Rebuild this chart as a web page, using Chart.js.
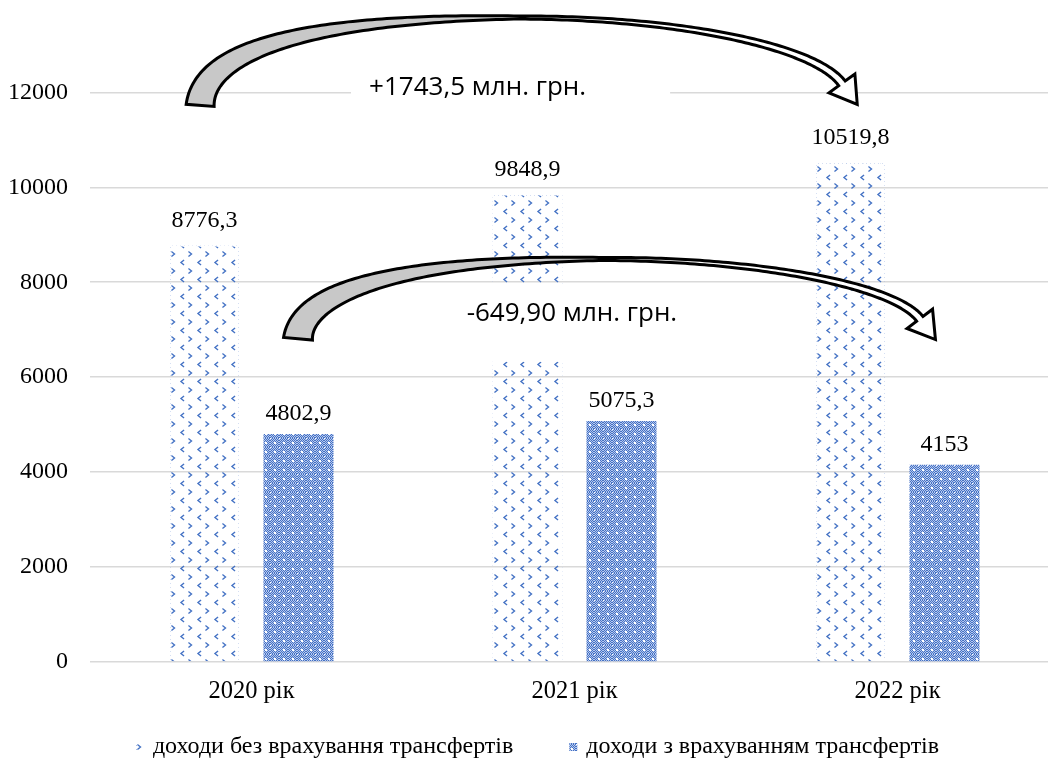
<!DOCTYPE html>
<html>
<head>
<meta charset="utf-8">
<script src="https://cdn.jsdelivr.net/npm/chart.js@4/dist/chart.umd.min.js"></script>
<style>
  html, body { margin: 0; padding: 0; background: #ffffff; overflow: hidden; width: 1048px; height: 758px; }
  #wrap { position: absolute; left: 0; top: -39px; width: 1060px; height: 797px; }
</style>
</head>
<body>
<div id="wrap"><canvas id="chart" width="1060" height="797" style="width:1060px;height:797px"></canvas></div>
<script>
// Revenue of the budget, mln UAH
const categories = ['2020 рік', '2021 рік', '2022 рік'];
const seriesNames = ['доходи без врахування трансфертів', 'доходи з врахуванням трансфертів'];
const incomeWithoutTransfers = [8776.3, 9848.9, 10519.8];
const incomeWithTransfers = [4802.9, 5075.3, 4153];
const yTicks = [0, 2000, 4000, 6000, 8000, 10000, 12000];
const changeLabels = ['+1743,5 млн. грн.', '-649,90 млн. грн.'];

const BLUE = '#4472C4';
const SERIF = '"Liberation Serif", "Times New Roman", serif';
const SANS = '"Open Sans", "Noto Sans", sans-serif';

const canvas = document.getElementById('chart');
const ctx = canvas.getContext('2d');

// sparse chevron fill for the first series
function sparsePattern() {
  const t = document.createElement('canvas');
  t.width = 17; t.height = 17;
  const g = t.getContext('2d');
  g.strokeStyle = BLUE; g.lineWidth = 1.4; g.lineCap = 'square';
  g.beginPath(); g.moveTo(2, 2); g.lineTo(4.5, 4); g.lineTo(2, 6); g.stroke();
  g.beginPath(); g.moveTo(13.5, 10.5); g.lineTo(11, 12.5); g.lineTo(13.5, 14.5); g.stroke();
  return ctx.createPattern(t, 'repeat');
}

// faint dotted outline for the sparse bars
function dotPattern() {
  const t = document.createElement('canvas');
  t.width = 4; t.height = 4;
  const g = t.getContext('2d');
  g.fillStyle = '#a9bde6';
  g.fillRect(0, 0, 1, 1);
  g.fillRect(2, 2, 1, 1);
  return ctx.createPattern(t, 'repeat');
}

// dense checker fill for the second series
function densePattern() {
  const t = document.createElement('canvas');
  t.width = 9; t.height = 9;
  const g = t.getContext('2d');
  g.fillStyle = '#b7c8ee'; g.fillRect(0, 0, 9, 9);
  g.fillStyle = BLUE;
  for (let i = 0; i < 9; i++) for (let j = 0; j < 9; j++) if ((i + j) % 2 === 0) g.fillRect(i, j, 1, 1);
  g.fillStyle = '#ffffff';
  g.fillRect(4, 4, 2, 2);
  g.fillRect(0, 0, 1, 1);
  return ctx.createPattern(t, 'repeat');
}

const fills = [sparsePattern(), densePattern()];
const outline = dotPattern();

function fmt(v) { return String(v).replace('.', ','); }

function bez(a, b, c, d, t) {
  const u = 1 - t;
  return { x: u*u*u*a.x + 3*u*u*t*b.x + 3*u*t*t*c.x + t*t*t*d.x,
           y: u*u*u*a.y + 3*u*u*t*b.y + 3*u*t*t*c.y + t*t*t*d.y };
}
function bezD(a, b, c, d, t) {
  const u = 1 - t;
  return { x: 3*u*u*(b.x-a.x) + 6*u*t*(c.x-b.x) + 3*t*t*(d.x-c.x),
           y: 3*u*u*(b.y-a.y) + 6*u*t*(c.y-b.y) + 3*t*t*(d.y-c.y) };
}

// curved block arrow: two cubic segments (rise to apex, fall to head)
function drawCurvedArrow(g, segs, wTail, wMid, wEnd, headHalf, headLen) {
  const N = 90, left = [], right = [];
  for (let s = 0; s < 2; s++) {
    const [a, b, c, d] = segs[s];
    for (let i = (s ? 1 : 0); i <= N; i++) {
      const t = i / N;
      const p = bez(a, b, c, d, t), dv = bezD(a, b, c, d, t);
      const L = Math.hypot(dv.x, dv.y) || 1;
      const nx = -dv.y / L, ny = dv.x / L;
      const w = s === 0 ? wMid + (wTail - wMid) * Math.pow(1 - t, 1.1) : wMid + (wEnd - wMid) * t;
      left.push({ x: p.x + nx * w / 2, y: p.y + ny * w / 2 });
      right.push({ x: p.x - nx * w / 2, y: p.y - ny * w / 2 });
    }
  }
  const last = segs[1];
  const end = last[3];
  const dv = bezD(last[0], last[1], last[2], last[3], 1);
  const L = Math.hypot(dv.x, dv.y);
  const ux = dv.x / L, uy = dv.y / L, nx = -uy, ny = ux;
  const wingA = { x: end.x + nx * headHalf, y: end.y + ny * headHalf };
  const wingB = { x: end.x - nx * headHalf, y: end.y - ny * headHalf };
  const tip = { x: end.x + ux * headLen, y: end.y + uy * headLen };

  g.save();
  g.beginPath();
  left.forEach((p, i) => i ? g.lineTo(p.x, p.y) : g.moveTo(p.x, p.y));
  g.lineTo(wingA.x, wingA.y);
  g.lineTo(tip.x, tip.y);
  g.lineTo(wingB.x, wingB.y);
  for (let i = right.length - 1; i >= 0; i--) g.lineTo(right[i].x, right[i].y);
  g.closePath();
  g.fillStyle = '#ffffff';
  g.fill();
  g.save();
  g.clip();
  g.fillStyle = '#c8c8c8';
  g.fillRect(0, 0, segs[0][3].x, canvas.height);
  g.restore();
  g.strokeStyle = '#000000';
  g.lineWidth = 3;
  g.lineJoin = 'miter';
  g.stroke();
  g.restore();
}

const annotations = {
  id: 'annotations',
  afterDatasetsDraw(chart) {
    const g = chart.ctx;
    const xs = chart.scales.x, ys = chart.scales.y;
    const P = (i, v) => ({ x: xs.getPixelForValue(i), y: ys.getPixelForValue(v) });

    // value labels above bars
    g.save();
    g.font = '24px ' + SERIF;
    g.fillStyle = '#000000';
    g.textAlign = 'center';
    g.textBaseline = 'bottom';
    const lift = [13, 8];
    chart.data.datasets.forEach((ds, di) => {
      chart.getDatasetMeta(di).data.forEach((bar, i) => {
        g.fillText(fmt(ds.data[i]), bar.x, bar.y - lift[di]);
      });
    });
    g.restore();

    // change captions on white plates
    const plates = [
      { a: P(0.308, 12693), b: P(1.296, 11432), c: P(0.70, 12105), text: changeLabels[0] },
      { a: P(0.608, 7965), b: P(1.574, 6326), c: P(0.992, 7334), text: changeLabels[1] }
    ];
    g.save();
    plates.forEach(p => {
      g.fillStyle = '#ffffff';
      g.fillRect(p.a.x, p.a.y, p.b.x - p.a.x, p.b.y - p.a.y);
      g.fillStyle = '#000000';
      g.font = '26px ' + SANS;
      g.textAlign = 'center';
      g.textBaseline = 'middle';
      g.fillText(p.text, p.c.x, p.c.y);
    });
    g.restore();

    // arrows
    drawCurvedArrow(g, [
      [P(-0.159, 11726), P(-0.144, 13071), P(0.274, 13576), P(0.831, 13576)],
      [P(0.831, 13576), P(1.327, 13576), P(1.745, 12966), P(1.828, 12189)]
    ], 28, 3, 8, 16, 26);
    drawCurvedArrow(g, [
      [P(0.144, 6809), P(0.159, 7923), P(0.522, 8490), P(1.095, 8490)],
      [P(1.095, 8490), P(1.574, 8490), P(1.992, 7923), P(2.069, 7229)]
    ], 29, 3, 8, 16, 26);

    // legend
    g.save();
    g.font = '24px ' + SERIF;
    g.textBaseline = 'middle';
    g.textAlign = 'left';
    const box = 8, textOffset = 17, itemGap = 56;
    const widths = seriesNames.map(n => textOffset + g.measureText(n).width);
    const total = widths[0] + widths[1] + itemGap;
    let x = 537.5 - total / 2;
    const y = chart.height - 11;
    seriesNames.forEach((n, i) => {
      g.fillStyle = '#ffffff';
      g.fillRect(x, y - box / 2, box, box);
      if (i === 0) {
        g.fillStyle = outline;
        g.fillRect(x, y - box / 2, 2, box);
      }
      g.fillStyle = fills[i];
      g.fillRect(x, y - box / 2, box, box);
      g.fillStyle = '#000000';
      g.fillText(n, x + textOffset, y);
      x += widths[i] + itemGap;
    });
    g.restore();
  }
};

new Chart(canvas, {
  type: 'bar',
  data: {
    labels: categories,
    datasets: [
      { label: seriesNames[0], data: incomeWithoutTransfers, backgroundColor: fills[0],
        borderColor: outline, borderWidth: 1, borderSkipped: 'start',
        categoryPercentage: 0.582, barPercentage: 0.745 },
      { label: seriesNames[1], data: incomeWithTransfers, backgroundColor: fills[1],
        categoryPercentage: 0.582, barPercentage: 0.745 }
    ]
  },
  options: {
    responsive: false,
    animation: false,
    devicePixelRatio: 1,
    layout: { padding: { top: 15.8, right: 1, left: 0, bottom: 0 } },
    plugins: { legend: { display: false }, tooltip: { enabled: false } },
    scales: {
      x: {
        grid: { display: false },
        border: { display: false },
        ticks: { font: { family: SERIF, size: 24.5 }, color: '#000000', padding: 7 },
        afterFit(s) { s.height = 96; }
      },
      y: {
        min: 0, max: 14000,
        afterBuildTicks(s) { s.ticks = yTicks.map(v => ({ value: v })); },
        grid: { color: '#d9d9d9', lineWidth: 1.5, drawTicks: false },
        border: { display: false },
        ticks: { font: { family: SERIF, size: 24 }, color: '#000000', padding: 22,
                 callback: v => String(v) },
        afterFit(s) { s.width = 90; }
      }
    }
  },
  plugins: [annotations]
});
</script>
</body>
</html>
